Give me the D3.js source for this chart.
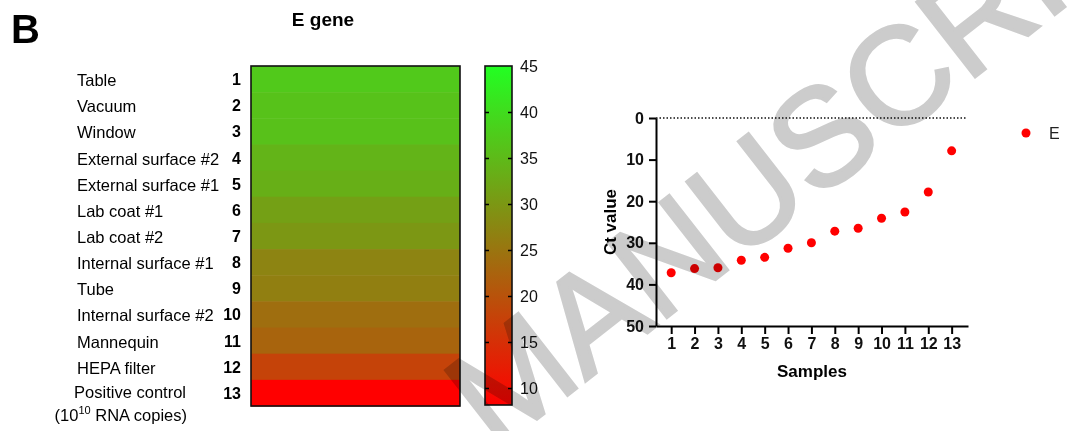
<!DOCTYPE html>
<html>
  <head>
    <meta charset="utf-8">
    <title>E gene Ct values</title>
    <script src="https://cdn.jsdelivr.net/npm/d3@7"></script>
    <style>
      body { margin: 0; background: #fff; }
      svg { font-family: "Liberation Sans", Arial, sans-serif; display: block; }
      .axis path, .axis line { stroke: #000; }
      .watermark { mix-blend-mode: multiply; }
    </style>
  </head>
  <body>
    <div id="chart"></div>
    <script>
      // samples, in heatmap row order
      var sampleIds = [1, 2, 3, 4, 5, 6, 7, 8, 9, 10, 11, 12, 13];
      var sampleNames = ['Table', 'Vacuum', 'Window', 'External surface #2', 'External surface #1',
        'Lab coat #1', 'Lab coat #2', 'Internal surface #1', 'Tube', 'Internal surface #2',
        'Mannequin', 'HEPA filter', 'Positive control'];
      // Ct values
      var ctValues = [37.2, 36.2, 36.0, 34.2, 33.5, 31.3, 30.0, 27.2, 26.5, 24.1, 22.6, 17.8, 7.9];
      var colorTicks = [10, 15, 20, 25, 30, 35, 40, 45];
      var ctTicks = [0, 10, 20, 30, 40, 50];
      var seriesName = 'E';

      var width = 1068;
      var height = 431;

      var svg = d3.select('#chart')
        .append('svg')
        .attr('width', width)
        .attr('height', height);

      var color = d3.scaleLinear()
        .domain([8.15, 45])
        .range(['#ff0000', '#22ff22'])
        .interpolate(d3.interpolateRgb);

      // panel letter + title
      svg.append('text')
        .attr('x', 11).attr('y', 43)
        .style('font-size', '40px').style('font-weight', 'bold')
        .text('B');

      svg.append('text')
        .attr('x', 323).attr('y', 26)
        .attr('text-anchor', 'middle')
        .style('font-size', '19px').style('font-weight', 'bold')
        .text('E gene');

      // ---- heatmap ----
      var rows = d3.scaleBand()
        .domain(sampleIds)
        .range([66, 406]);

      var heat = svg.append('g');

      heat.selectAll('rect.cell')
        .data(sampleIds)
        .enter()
        .append('rect')
        .attr('class', 'cell')
        .attr('x', 251)
        .attr('y', function(d) { return rows(d); })
        .attr('width', 209)
        .attr('height', rows.bandwidth() + 0.5)
        .attr('fill', function(d, i) { return color(ctValues[i]); });

      heat.append('rect')
        .attr('x', 251).attr('y', 66)
        .attr('width', 209).attr('height', 340)
        .attr('fill', 'none')
        .attr('stroke', '#111')
        .attr('stroke-width', 1.6);

      heat.selectAll('text.num')
        .data(sampleIds)
        .enter()
        .append('text')
        .attr('class', 'num')
        .attr('x', 241)
        .attr('y', function(d) { return rows(d) + rows.bandwidth() / 2 + 6; })
        .attr('text-anchor', 'end')
        .style('font-size', '16px').style('font-weight', 'bold')
        .text(function(d) { return d; });

      heat.selectAll('text.name')
        .data(sampleIds.slice(0, 12))
        .enter()
        .append('text')
        .attr('class', 'name')
        .attr('x', 77)
        .attr('y', function(d) { return rows(d) + rows.bandwidth() / 2 + 7; })
        .style('font-size', '16.5px')
        .text(function(d, i) { return sampleNames[i]; });

      // last label on two lines
      var last = heat.append('text')
        .attr('x', 186)
        .attr('y', rows(13) + rows.bandwidth() / 2 + 5)
        .attr('text-anchor', 'end')
        .style('font-size', '16.5px');
      last.append('tspan').text(sampleNames[12]);
      var sub = heat.append('text')
        .attr('x', 187)
        .attr('y', rows(13) + rows.bandwidth() / 2 + 28)
        .attr('text-anchor', 'end')
        .style('font-size', '16.5px');
      sub.append('tspan').text('(10');
      sub.append('tspan').attr('dy', -7).style('font-size', '11px').text('10');
      sub.append('tspan').attr('dy', 7).text(' RNA copies)');

      // ---- colour bar ----
      var cbX = 485, cbW = 27;
      var cbScale = d3.scaleLinear().domain([8.15, 45]).range([405, 66]);

      var grad = svg.append('defs').append('linearGradient')
        .attr('id', 'cbgrad')
        .attr('x1', 0).attr('y1', 1).attr('x2', 0).attr('y2', 0);
      grad.selectAll('stop')
        .data(d3.range(0, 1.0001, 0.1))
        .enter()
        .append('stop')
        .attr('offset', function(d) { return d; })
        .attr('stop-color', function(d) { return color(8.15 + d * (45 - 8.15)); });

      svg.append('rect')
        .attr('x', cbX).attr('y', 66)
        .attr('width', cbW).attr('height', 339)
        .attr('fill', 'url(#cbgrad)')
        .attr('stroke', '#111')
        .attr('stroke-width', 1.6);

      var cbLeft = svg.append('g')
        .attr('class', 'axis')
        .attr('transform', 'translate(' + cbX + ',0)')
        .call(d3.axisLeft(cbScale).tickValues(colorTicks.slice(0, 7)).tickSize(-4).tickFormat(''));
      cbLeft.select('.domain').remove();

      var cbRight = svg.append('g')
        .attr('class', 'axis')
        .attr('transform', 'translate(' + (cbX + cbW) + ',0)')
        .call(d3.axisRight(cbScale).tickValues(colorTicks).tickSize(-4).tickPadding(8));
      cbRight.select('.domain').remove();
      cbRight.selectAll('line').attr('stroke-width', 1.5)
        .filter(function(d) { return d === 45; }).remove();
      cbLeft.selectAll('line').attr('stroke-width', 1.5);
      cbRight.selectAll('text')
        .attr('fill', '#111')
        .style('font-size', '16px')
        .style('font-family', '"Liberation Sans", Arial, sans-serif');

      // ---- scatter ----
      var x = d3.scaleLinear().domain([0.35, 13.7]).range([656, 968]);
      var y = d3.scaleLinear().domain([0, 50]).range([118, 326]);

      svg.append('line')
        .attr('x1', x(0.35)).attr('x2', x(13.65))
        .attr('y1', y(0)).attr('y2', y(0))
        .attr('stroke', '#111')
        .attr('stroke-width', 1.5)
        .attr('stroke-dasharray', '1.5,2');

      var xAxis = svg.append('g')
        .attr('class', 'axis')
        .attr('transform', 'translate(0,' + y(50) + ')')
        .call(d3.axisBottom(x).tickValues(sampleIds).tickSize(8).tickSizeOuter(0).tickPadding(4));

      var yAxis = svg.append('g')
        .attr('class', 'axis')
        .attr('transform', 'translate(' + x(0.35) + ',0)')
        .call(d3.axisLeft(y).tickValues(ctTicks).tickSize(7).tickSizeOuter(0).tickPadding(5));

      [xAxis, yAxis].forEach(function(a) {
        a.selectAll('path, line').attr('stroke-width', 2);
        a.selectAll('text')
          .attr('fill', '#111')
          .style('font-size', '16px')
          .style('font-weight', 'bold')
          .style('font-family', '"Liberation Sans", Arial, sans-serif');
      });

      svg.selectAll('circle.pt')
        .data(sampleIds)
        .enter()
        .append('circle')
        .attr('class', 'pt')
        .attr('cx', function(d) { return x(d); })
        .attr('cy', function(d, i) { return y(ctValues[i]); })
        .attr('r', 4.5)
        .attr('fill', '#ff0000');

      svg.append('text')
        .attr('transform', 'translate(616,222) rotate(-90)')
        .attr('text-anchor', 'middle')
        .style('font-size', '17px').style('font-weight', 'bold')
        .text('Ct value');

      svg.append('text')
        .attr('x', 812).attr('y', 377)
        .attr('text-anchor', 'middle')
        .style('font-size', '17px').style('font-weight', 'bold')
        .text('Samples');

      // legend
      svg.append('circle')
        .attr('cx', 1026).attr('cy', 133)
        .attr('r', 4.5)
        .attr('fill', '#ff0000');
      svg.append('text')
        .attr('x', 1049).attr('y', 138.5)
        .attr('fill', '#222')
        .style('font-size', '16px')
        .text(seriesName);

      // watermark
      svg.append('text')
        .attr('class', 'watermark')
        .attr('transform', 'translate(495,452) rotate(-38)')
        .attr('fill', '#cccccc')
        .attr('stroke', '#cccccc')
        .attr('stroke-width', 3)
        .style('font-size', '138px')
        .text('MANUSCRIPT');
    </script>
  </body>
</html>
